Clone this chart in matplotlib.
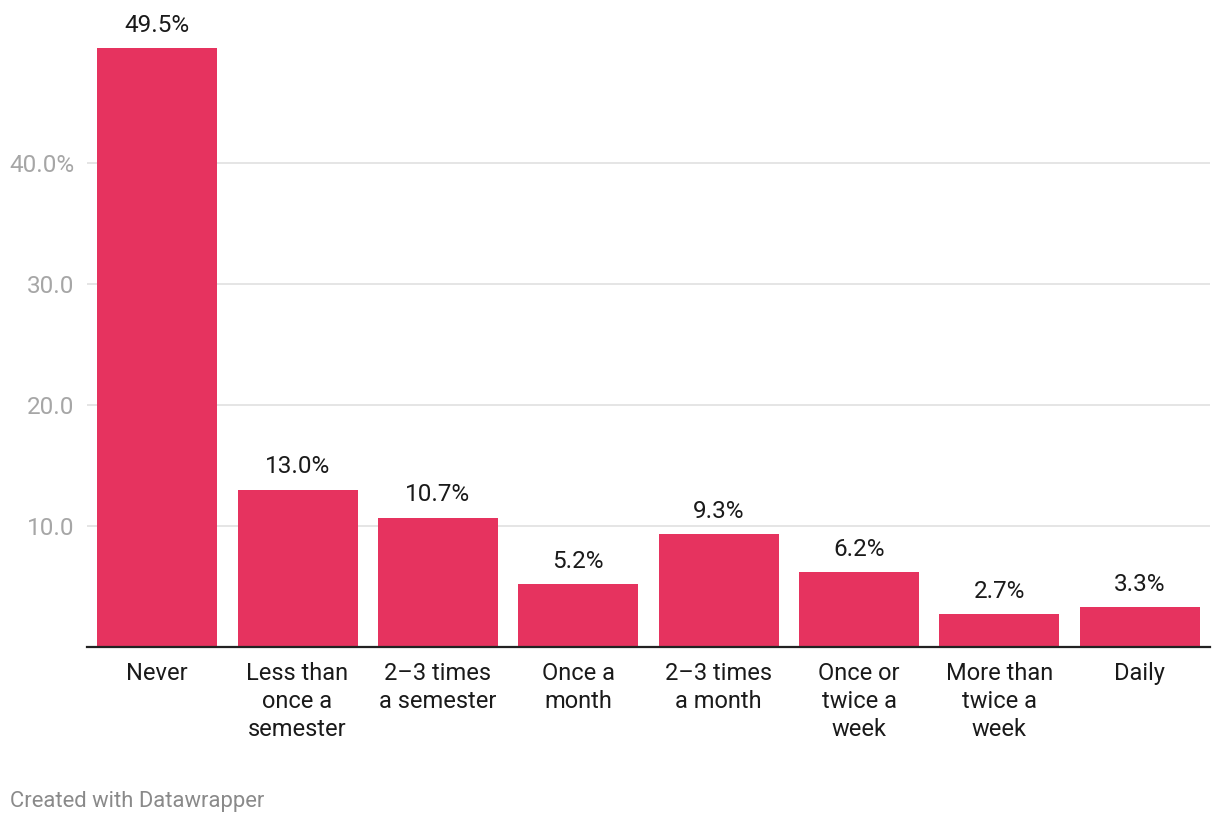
import matplotlib
matplotlib.use("Agg")
import matplotlib.pyplot as plt

categories = ["Never", "Less than\nonce a\nsemester", "2–3 times\na semester", "Once a\nmonth",
              "2–3 times\na month", "Once or\ntwice a\nweek", "More than\ntwice a\nweek", "Daily"]
values = [49.5, 13.0, 10.7, 5.2, 9.3, 6.2, 2.7, 3.3]
yticks = [10, 20, 30, 40]
ytick_labels = ["10.0", "20.0", "30.0", "40.0%"]

plt.rcParams["font.family"] = ["Roboto", "DejaVu Sans"]

W, H = 1220, 824
fig = plt.figure(figsize=(W / 100, H / 100), dpi=100)
# axes placed in pixel terms: left 87, right 1210, baseline y=647, top y=40
ax = fig.add_axes([87 / W, (H - 647) / H, (1210 - 87) / W, (647 - 40) / H])

x = range(len(values))
ax.bar(x, values, width=0.855, color="#e6335f", zorder=3)
ax.set_xlim(-0.5, len(values) - 0.5)
ax.set_ylim(0, (647 - 40) / 12.1)

ax.set_yticks(yticks)
ax.set_yticklabels(ytick_labels, color="#a6a6a6", fontsize=17.5)
ax.yaxis.grid(True, color="#e0e0e0", lw=1.2, zorder=0)
ax.tick_params(axis="y", length=0, pad=9)
ax.tick_params(axis="x", length=0, pad=0)
ax.set_xticks([])

for s in ["top", "right", "left"]:
    ax.spines[s].set_visible(False)
ax.spines["bottom"].set_color("#222222")
ax.spines["bottom"].set_linewidth(1.6)
ax.spines["bottom"].set_zorder(4)

for i, (v, c) in enumerate(zip(values, categories)):
    ax.annotate(f"{v:.1f}%", (i, v), xytext=(0, 16.5), textcoords="offset points",
                ha="center", va="center", fontsize=17.5, color="#1a1a1a")
    ax.annotate(c, (i, 0), xytext=(0, -11), textcoords="offset points",
                ha="center", va="top", fontsize=17, color="#1a1a1a", linespacing=1.27)

fig.text(10 / W, 1 - 802 / H, "Created with Datawrapper", fontsize=15.8,
         color="#8a8a8a", ha="left", va="center")

fig.savefig("out.png", dpi=100)
